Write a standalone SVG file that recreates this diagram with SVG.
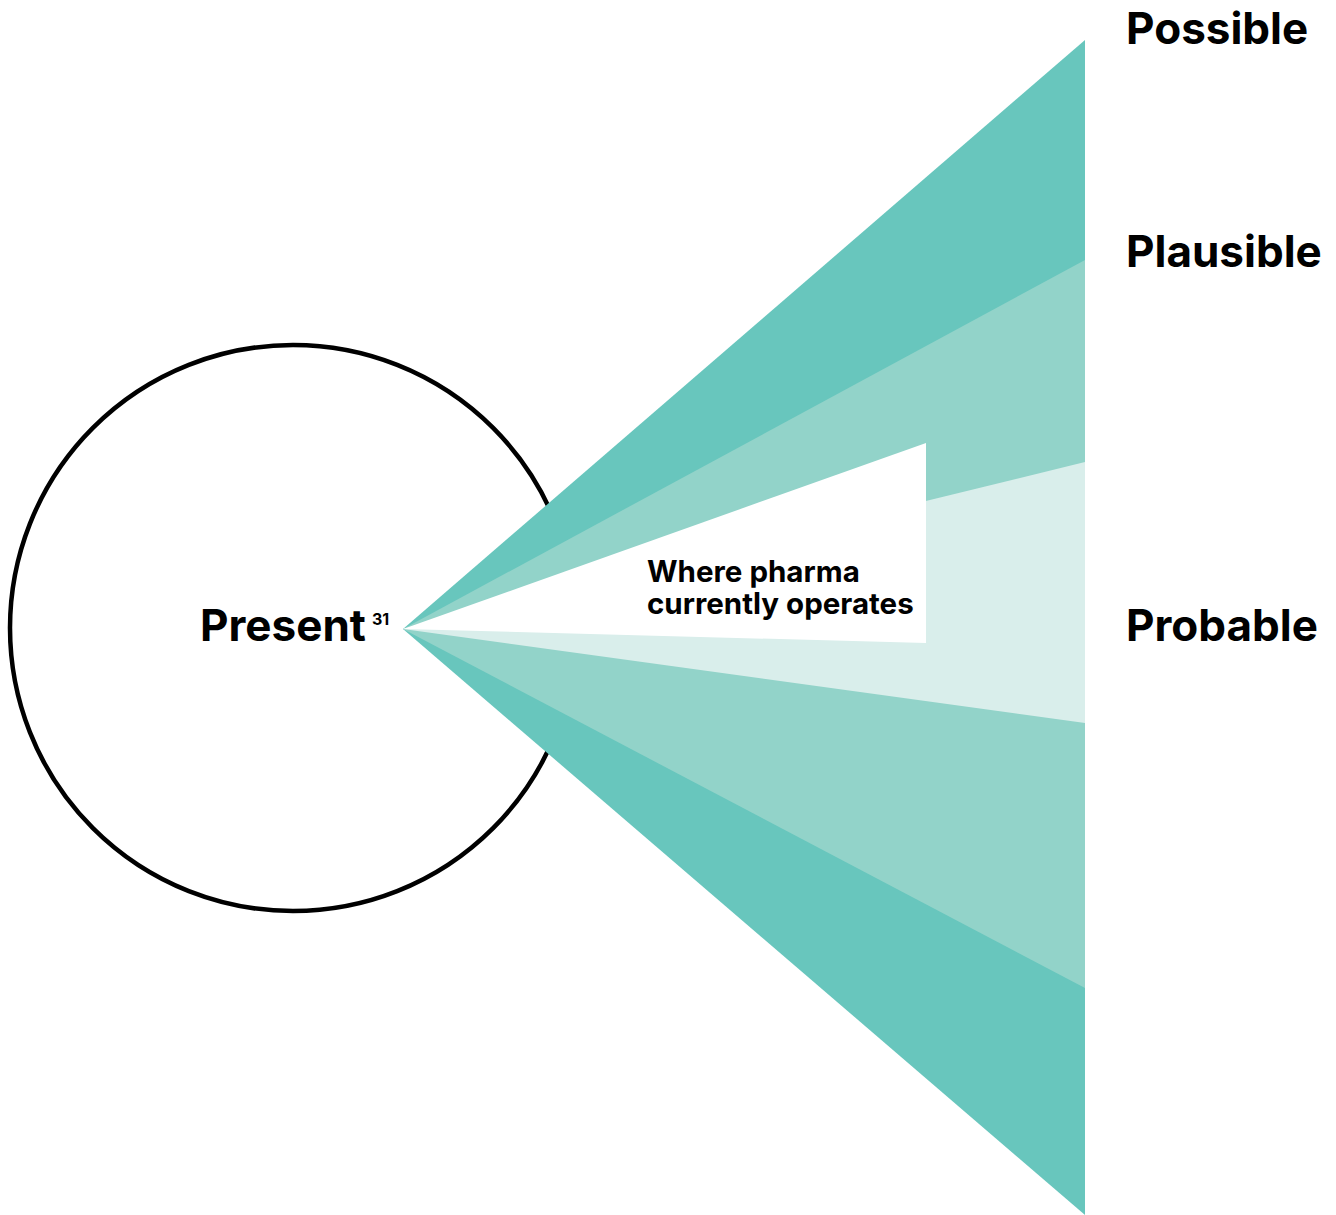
<svg xmlns="http://www.w3.org/2000/svg" width="1336" height="1215" viewBox="0 0 1336 1215">
  <style>
    .lbl { font-family: Inter, "Liberation Sans", sans-serif; font-weight: 700; fill: #000; }
    .big { font-size: 44px; }
    .sup { font-size: 16px; }
    .small { font-size: 29.5px; }
  </style>
  <rect width="1336" height="1215" fill="#fff"/>
  <g id="present">
    <circle cx="293" cy="628" r="283" fill="none" stroke="#000" stroke-width="4.5"/>
  </g>
  <g id="cone">
    <polygon id="possible-band" points="403,629 1085,40 1085,1215" fill="#68c6bd"/>
    <polygon id="plausible-band" points="403,629 1085,260 1085,988" fill="#92d3c9"/>
    <polygon id="probable-band" points="403,629 1085,462 1085,723" fill="#d9eeeb"/>
    <polygon id="current-band" points="403,629 926,443 926,643" fill="#fff"/>
  </g>
  <g id="labels">
    <text class="lbl big" x="200" y="641">Present</text>
    <text class="lbl sup" x="372" y="625">31</text>
    <text class="lbl small" x="647" y="582">Where pharma<tspan x="647" y="614">currently operates</tspan></text>
    <text class="lbl big" x="1126" y="44">Possible</text>
    <text class="lbl big" x="1126" y="267">Plausible</text>
    <text class="lbl big" x="1126" y="641">Probable</text>
  </g>
</svg>
